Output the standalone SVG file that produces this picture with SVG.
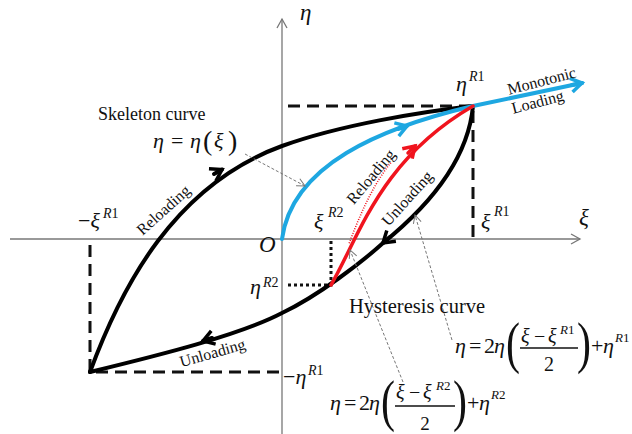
<svg xmlns="http://www.w3.org/2000/svg" width="632" height="434" viewBox="0 0 632 434">
<defs>
<style>
.t{font-family:"Liberation Serif","Times New Roman",serif;fill:#111}
.m{font-family:"Liberation Serif","Times New Roman",serif;font-style:italic;fill:#111}
.up{font-style:normal}
.axis{stroke:#777;stroke-width:1.3;fill:none}
.dash{stroke:#111;stroke-width:3;stroke-dasharray:12 7;fill:none}
.dot{stroke:#111;stroke-width:3;stroke-dasharray:3 3;fill:none}
.blk{stroke:#000;stroke-width:4;fill:none;stroke-linecap:round}
.blue{stroke:#1ea7e1;stroke-width:4;fill:none;stroke-linecap:round}
.red{stroke:#f0141e;stroke-width:3.5;fill:none;stroke-linecap:round}
.lead{stroke:#777;stroke-width:1;stroke-dasharray:3 2;fill:none}
</style>
<marker id="ak" markerUnits="userSpaceOnUse" markerWidth="30" markerHeight="30" refX="0" refY="0" viewBox="-15 -15 30 30" orient="auto" overflow="visible"><path d="M-11,-7 L0,0 L-11,7" fill="none" stroke="#000" stroke-width="3.5"/></marker>
<marker id="ab" markerUnits="userSpaceOnUse" markerWidth="30" markerHeight="30" refX="0" refY="0" viewBox="-15 -15 30 30" orient="auto" overflow="visible"><path d="M-11,-7 L0,0 L-11,7" fill="none" stroke="#1ea7e1" stroke-width="3.5"/></marker>
<marker id="ar" markerUnits="userSpaceOnUse" markerWidth="30" markerHeight="30" refX="0" refY="0" viewBox="-15 -15 30 30" orient="auto" overflow="visible"><path d="M-11,-7 L0,0 L-11,7" fill="none" stroke="#f0141e" stroke-width="3.5"/></marker>
<marker id="ax" markerUnits="userSpaceOnUse" markerWidth="20" markerHeight="20" refX="0" refY="0" viewBox="-10 -10 20 20" orient="auto" overflow="visible"><path d="M-9,-5 L0,0 L-9,5" fill="none" stroke="#777" stroke-width="1.3"/></marker>
<marker id="al" markerUnits="userSpaceOnUse" markerWidth="20" markerHeight="20" refX="0" refY="0" viewBox="-10 -10 20 20" orient="auto" overflow="visible"><path d="M-8,-4 L0,0 L-8,4" fill="none" stroke="#777" stroke-width="1"/></marker>
</defs>
<rect width="632" height="434" fill="#fff"/>

<g id="axes">
<path class="axis" d="M10,239 L580,239" marker-end="url(#ax)"/>
<path class="axis" d="M282,434 L282,19" marker-end="url(#ax)"/>
<text class="m" x="300" y="20" font-size="23">η</text>
<text class="m" x="579" y="225" font-size="23">ξ</text>
<text class="m" x="259" y="252" font-size="23">O</text>
</g>

<g id="guides">
<path class="dash" d="M288,106 L473,106 L473,240"/>
<path class="dash" d="M90,245 L90,372 L282,372"/>
<path class="dot" d="M331,241 L331,285 L285,285"/>
</g>

<g id="connectors">
<path id="skeleton" class="blk" d="M90,372 C122,285 175,185 282,146 C340,125 420,112 473,106"/>
<path class="blk" d="M214,174 L222,169.5" marker-end="url(#ak)"/>
<path id="unloading" class="blk" d="M473,106 C468,160 430,205 383,243 C362,262 318,296 282,313 C240,335 160,355 90,372"/>
<path class="blk" d="M390,237 L383,243" marker-end="url(#ak)"/>
<path class="blk" d="M212,338 L203,341" marker-end="url(#ak)"/>
<path id="monotonic" class="blue" d="M282,239 C292,165 380,128 473,106 L582,83"/>
<path class="blue" d="M398,129 L407,126" marker-end="url(#ab)"/>
<path class="blue" d="M572,85 L582,83" marker-end="url(#ab)"/>
<path id="reload" class="red" d="M331,285 C360,235 380,160 473,106"/>
<path d="M351,244 C362,215 375,185 393,163" fill="none" stroke="#f0141e" stroke-width="1.6" stroke-dasharray="1 1.5" transform="translate(-1.8,-0.8)"/>
<path class="red" d="M408,153 L415,146" marker-end="url(#ar)"/>
<path class="lead" d="M245,154 L305,186" marker-end="url(#al)"/>
<path class="lead" d="M403,382 L350,250" marker-end="url(#al)"/>
<path class="lead" d="M452,340 L415,215" marker-end="url(#al)"/>
</g>

<g id="labels">
<text class="t" x="98" y="120" font-size="18">Skeleton curve</text>
<text class="m" x="153" y="148" font-size="22">η</text>
<text class="t" x="171" y="148" font-size="22">=</text>
<text class="m" x="190" y="148" font-size="22">η</text>
<text class="t" x="203" y="150" font-size="28">(</text>
<text class="m" x="214" y="148" font-size="22">ξ</text>
<text class="t" x="228" y="150" font-size="28">)</text>
<text class="t" x="349" y="313" font-size="20.5">Hysteresis  curve</text>
<text class="t" font-size="16" text-anchor="middle" transform="translate(167,214) rotate(-42)">Reloading</text>
<text class="t" font-size="16" text-anchor="middle" transform="translate(375,180) rotate(-50)">Reloading</text>
<text class="t" font-size="16" text-anchor="middle" transform="translate(411,202) rotate(-48)">Unloading</text>
<text class="t" font-size="16" text-anchor="middle" transform="translate(214,358) rotate(-16)">Unloading</text>
<text class="t" font-size="16" text-anchor="middle" transform="translate(543,86) rotate(-14.6)">Monotonic</text>
<text class="t" font-size="16" text-anchor="middle" transform="translate(539,107) rotate(-14.6)">Loading</text>
</g>

<g id="points">
<text class="m" x="456" y="91" font-size="22">η</text><text class="m" x="469" y="81" font-size="14">R<tspan class="up">1</tspan></text>
<text class="m" x="481" y="229" font-size="22">ξ</text><text class="m" x="494" y="216" font-size="14">R<tspan class="up">1</tspan></text>
<text class="m" x="314" y="229" font-size="22">ξ</text><text class="m" x="328" y="217" font-size="14">R<tspan class="up">2</tspan></text>
<text class="m" x="78" y="228" font-size="22"><tspan class="up">−</tspan>ξ</text><text class="m" x="103" y="218" font-size="14">R<tspan class="up">1</tspan></text>
<text class="m" x="250" y="294" font-size="22">η</text><text class="m" x="263" y="287" font-size="14">R<tspan class="up">2</tspan></text>
<text class="m" x="283" y="384" font-size="22"><tspan class="up">−</tspan>η</text><text class="m" x="308" y="375" font-size="14">R<tspan class="up">1</tspan></text>
</g>

<g id="eq1">
<text class="m" x="455" y="353" font-size="22">η</text>
<text class="t" x="469" y="353" font-size="22">=</text>
<text class="t" x="484" y="353" font-size="22">2</text>
<text class="m" x="494" y="353" font-size="22">η</text>
<text class="t" font-size="56" transform="translate(506,362) scale(0.75,1)">(</text>
<text class="m" x="521" y="343" font-size="20">ξ</text>
<text class="t" x="534" y="343" font-size="20">−</text>
<text class="m" x="548" y="343" font-size="20">ξ</text>
<text class="m" x="560" y="334" font-size="13">R<tspan class="up">1</tspan></text>
<path d="M520,348 L578,348" stroke="#111" stroke-width="1.3"/>
<text class="t" x="549" y="371" font-size="20" text-anchor="middle">2</text>
<text class="t" font-size="56" transform="translate(577,362) scale(0.75,1)">)</text>
<text class="t" x="591" y="353" font-size="22">+</text>
<text class="m" x="603" y="353" font-size="22">η</text>
<text class="m" x="615" y="342" font-size="13">R<tspan class="up">1</tspan></text>
</g>

<g id="eq2">
<text class="m" x="330" y="410" font-size="22">η</text>
<text class="t" x="344" y="410" font-size="22">=</text>
<text class="t" x="359" y="410" font-size="22">2</text>
<text class="m" x="369" y="410" font-size="22">η</text>
<text class="t" font-size="56" transform="translate(381,420) scale(0.75,1)">(</text>
<text class="m" x="396" y="399" font-size="20">ξ</text>
<text class="t" x="409" y="399" font-size="20">−</text>
<text class="m" x="423" y="399" font-size="20">ξ</text>
<text class="m" x="436" y="390" font-size="13">R<tspan class="up">2</tspan></text>
<path d="M395,406 L455,406" stroke="#111" stroke-width="1.3"/>
<text class="t" x="425" y="430" font-size="19" text-anchor="middle">2</text>
<text class="t" font-size="56" transform="translate(453,420) scale(0.75,1)">)</text>
<text class="t" x="467" y="410" font-size="22">+</text>
<text class="m" x="479" y="410" font-size="22">η</text>
<text class="m" x="491" y="399" font-size="13">R<tspan class="up">2</tspan></text>
</g>
</svg>
